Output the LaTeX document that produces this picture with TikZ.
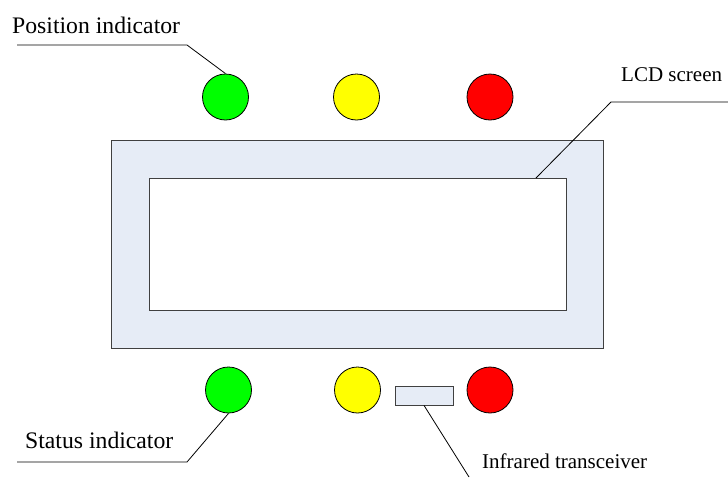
\documentclass[tikz,border=0pt]{standalone}
\usepackage{fontspec}
\setmainfont{Liberation Serif}
\definecolor{panel}{HTML}{E6ECF6}
\definecolor{ledgreen}{HTML}{00FF00}
\definecolor{ledyellow}{HTML}{FFFF00}
\definecolor{ledred}{HTML}{FF0000}
\begin{document}
\begin{tikzpicture}[x=1pt,y=-1pt,
  led/.style={circle,draw=black,line width=0.8pt,minimum size=46pt,inner sep=0pt},
  box/.style={rectangle,draw=black!75,line width=1pt,inner sep=0pt},
  lbig/.style={anchor=base west,inner sep=0pt,font=\fontsize{23.7}{28}\selectfont},
  lsmall/.style={anchor=base west,inner sep=0pt,font=\fontsize{21}{25}\selectfont},
  leader/.style={draw=black,line width=0.8pt}]
\useasboundingbox (0,0) rectangle (728,477);
% panel
\node[box,fill=panel,minimum width=492pt,minimum height=208pt] (outer) at (357,244) {};
\node[box,fill=white,minimum width=417pt,minimum height=132pt] (inner) at (357.5,244) {};
% LEDs
\node[led,fill=ledgreen] (g1) at (225.5,97) {};
\node[led,fill=ledyellow] (y1) at (356.5,97) {};
\node[led,fill=ledred] (r1) at (490,97) {};
\node[led,fill=ledgreen] (g2) at (228.5,390) {};
\node[led,fill=ledyellow] (y2) at (357.5,390) {};
\node[led,fill=ledred] (r2) at (490,390) {};
% infrared
\node[box,fill=panel,line width=0.8pt,minimum width=58pt,minimum height=19pt] (ir) at (424,395.5) {};
% labels
\node[lbig] (tpos) at (12,33) {Position indicator};
\node[lbig] (tstat) at (25,448) {Status indicator};
\node[lsmall] (tlcd) at (621,81) {LCD screen};
\node[lsmall] (tir) at (482,468) {Infrared transceiver};
% leaders
\coordinate (p1) at (17,45);
\coordinate (p2) at (187,45);
\draw[leader] (p1) -- (p2) -- (g1.north);
\coordinate (s1) at (17,462);
\coordinate (s2) at (187,462);
\draw[leader] (s1) -- (s2) -- (g2.south);
\coordinate (l0) at (536,178);
\coordinate (l1) at (611,102);
\coordinate (l2) at (728,102);
\draw[leader] (l0) -- (l1) -- (l2);
\coordinate (i1) at (469,477);
\draw[leader] (ir.south) -- (i1);
\end{tikzpicture}
\end{document}
